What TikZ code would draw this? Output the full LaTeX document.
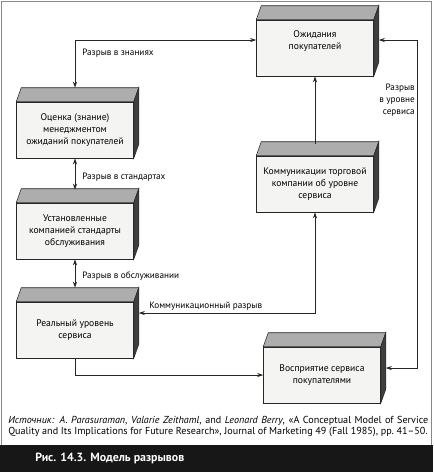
\documentclass[tikz,border=0pt]{standalone}
\usepackage{fontspec}
\setmainfont{PT Sans}
\usepackage{tikz}
\definecolor{gmInk}{HTML}{262626}
\definecolor{gmTop}{HTML}{ADADAD}
\definecolor{gmSide}{HTML}{3E3E3E}
\definecolor{gmFace}{HTML}{F4F4F2}
\definecolor{gmBand}{HTML}{171717}
\usetikzlibrary{arrows.meta,calc}

\begin{document}
\begin{tikzpicture}[x=0.75pt, y=-0.75pt,
    blok/.style={draw=gmInk, fill=gmFace, line width=0.4pt, minimum width=87.75pt,
      minimum height=42pt, inner sep=1pt, align=center, font=\fontsize{7.2}{8.8}\selectfont},
    lbl/.style={inner sep=0pt, font=\fontsize{6.9}{8.8}\selectfont},
    arr/.style={draw=gmInk, line width=0.5pt, -{Stealth[length=4.5pt,width=3pt]}},
    gap/.style={arr, {Stealth[length=4.5pt,width=3pt]}-{Stealth[length=4.5pt,width=3pt]}}]
    \useasboundingbox (0,0) rectangle (433,472);
    \draw[gmInk!55, line width=0.5pt] (1.5,1.5) rectangle (431.5,445);
    \fill[gmBand] (0,445) rectangle (433,472);

    \node[blok] (exp)  at (315,48)  {Ожидания\\покупателей\\[3pt]};
    \node[blok] (mgmt) at (75,130)  {Оценка (знание)\\менеджментом\\ожиданий покупателей};
    \node[blok] (comm) at (315,184) {Коммуникации торговой\\компании об уровне\\сервиса};
    \node[blok] (std)  at (75,231)  {Установленные\\компанией стандарты\\обслуживания};
    \node[blok] (real) at (75,330)  {Реальный уровень\\сервиса};
    \node[blok] (perc) at (322,375) {Восприятие сервиса\\покупателями};

    \foreach \b in {exp,mgmt,comm,std,real,perc} {
      \filldraw[draw=gmInk, fill=gmTop, line width=0.4pt] (\b.north west) -- ++(5,-14)
        -- ($(\b.north east)+(5,-14)$) -- (\b.north east) -- cycle;
      \filldraw[draw=gmInk, fill=gmSide, line width=0.4pt] (\b.north east) -- ++(5,-14)
        -- ($(\b.south east)+(5,-14)$) -- (\b.south east) -- cycle;
    }

    \draw[gap] ($(exp.west)+(0,-8)$) -| ($(mgmt.north)+(0,-14)$)
      node[lbl, pos=0.5, anchor=west, xshift=5.25pt, yshift=-9.75pt] (kgap) {Разрыв в знаниях};
    \draw[gap] ($(exp.east)+(5,-8)$) -- ++(39,0) |- ($(perc.east)+(5,-7)$);
    \node[lbl, align=right, anchor=east] (sgap) at (415,100) {Разрыв\\в уровне\\сервиса};
    \draw[arr] ($(comm.north)+(0,-12)$) -- (exp.south);
    \draw[gap] (mgmt.south) -- ($(std.north)+(0,-13)$)
      node[lbl, pos=0.6, anchor=west, xshift=5.25pt] (stgap) {Разрыв в стандартах};
    \draw[gap] (std.south) -- ($(real.north)+(0,-14)$)
      node[lbl, pos=0.6, anchor=west, xshift=5.25pt] (svgap) {Разрыв в обслуживании};
    \draw[gap] (comm.south) |- ($(real.east)+(5,-17)$)
      node[lbl, pos=0.81, above=2pt] (cgap) {Коммуникационный разрыв};
    \draw[arr] (real.south) |- (perc.west);

    \node[anchor=north west, text width=315pt, align=justify, inner sep=0pt,
      font=\fontsize{7.6}{8.3}\selectfont] (src) at (8,416)
      {\textit{Источник:} \textit{A.~Parasuraman}, \textit{Valarie Zeithaml}, and
       \textit{Leonard Berry}, «A Conceptual Model of Service\linebreak Quality and Its
       Implications for Future Research», Journal of Marketing 49 (Fall 1985), pp.~41–50.};
    \node[anchor=west, inner sep=0pt, text=white, font=\bfseries\fontsize{8.9}{10}\selectfont]
      (cap) at (35,458) {Рис. 14.3. Модель разрывов};
  \end{tikzpicture}
\end{document}
